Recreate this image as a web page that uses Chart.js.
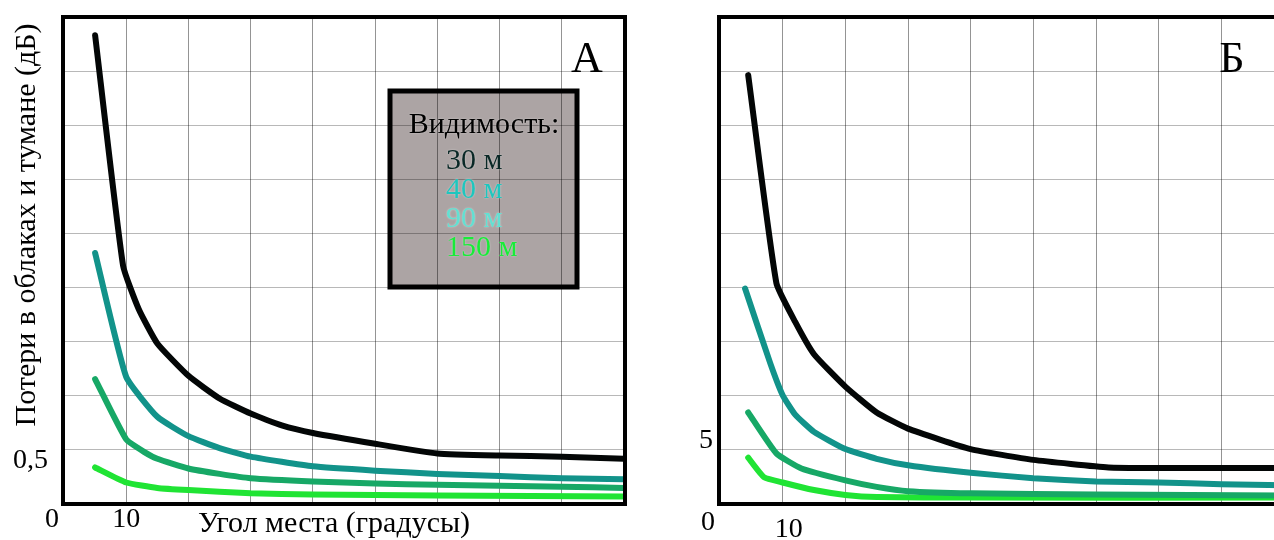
<!DOCTYPE html>
<html>
<head>
<meta charset="utf-8">
<script src="https://cdn.jsdelivr.net/npm/chart.js@4"></script>
<style>
  html, body { margin: 0; padding: 0; background: #fff; overflow: hidden; width: 1274px; height: 540px; }
  #wrapA { position: absolute; left: 0; top: 0; }
  #wrapB { position: absolute; left: 656px; top: 0; }
</style>
</head>
<body>
<div id="wrapA"><canvas id="chartA" width="640" height="540"></canvas></div>
<div id="wrapB"><canvas id="chartB" width="640" height="540"></canvas></div>
<script>
// panel A (dB, 0..4.5)
const angleA30 = [5, 9.5, 12, 15, 20, 25, 30, 35, 40, 50, 60, 70, 80, 90];
const lossA30 = [4.34, 2.2, 1.8, 1.48, 1.18, 0.97, 0.83, 0.72, 0.65, 0.55, 0.46, 0.44, 0.43, 0.41];
const angleA40 = [5, 10, 15, 20, 25, 30, 40, 50, 60, 70, 80, 90];
const lossA40 = [2.32, 1.17, 0.80, 0.62, 0.51, 0.43, 0.34, 0.30, 0.27, 0.25, 0.23, 0.22];
const angleA90 = [5, 10, 13, 15, 20, 25, 30, 40, 50, 60, 70, 80, 90];
const lossA90 = [1.15, 0.59, 0.47, 0.41, 0.32, 0.27, 0.23, 0.20, 0.18, 0.17, 0.16, 0.15, 0.14];
const angleA150 = [5, 10, 15, 20, 30, 40, 60, 90];
const lossA150 = [0.33, 0.19, 0.14, 0.12, 0.09, 0.08, 0.07, 0.06];

// panel B (dB, 0..45)
const angleB30 = [4.5, 9, 12, 15, 20, 25, 30, 40, 50, 62, 70, 80, 90];
const lossB30 = [39.7, 20.4, 16.8, 13.8, 10.8, 8.4, 6.9, 5.0, 4.0, 3.3, 3.25, 3.25, 3.25];
const angleB40 = [4, 8, 10, 12, 15, 20, 25, 30, 40, 50, 60, 70, 80, 90];
const lossB40 = [19.9, 13.0, 10.0, 8.2, 6.6, 5.0, 4.1, 3.5, 2.8, 2.3, 2.0, 1.9, 1.75, 1.65];
const angleB90 = [4.5, 9, 13, 20, 25, 30, 40, 60, 90];
const lossB90 = [8.4, 4.6, 3.2, 2.1, 1.5, 1.1, 0.9, 0.8, 0.7];
const angleB150 = [4.5, 7, 10, 15, 20, 25, 40, 90];
const lossB150 = [4.2, 2.4, 1.9, 1.2, 0.75, 0.55, 0.5, 0.5];

const seriesLabels = ['30 м', '40 м', '90 м', '150 м'];
const lineColors = ['#030606', '#12938a', '#17a866', '#20e434'];
const legendColors = ['#0a2826', '#1ec6be', '#62e0d2', '#18ec38'];
const legendTitle = 'Видимость:';
const xTitle = 'Угол места (градусы)';
const yTitle = 'Потери в облаках и тумане (дБ)';

const serif = '"Liberation Serif", "DejaVu Serif", serif';

function points(xs, ys) {
  return xs.map((x, i) => ({ x: x, y: ys[i] }));
}

function makeDatasets(list) {
  return list.map((pts, i) => ({
    label: seriesLabels[i],
    data: pts,
    borderColor: lineColors[i],
    borderWidth: 6,
    borderCapStyle: 'round',
    borderJoinStyle: 'round',
    pointRadius: 0,
    tension: 0.15,
    fill: false
  }));
}

const decor = {
  id: 'decor',
  beforeDraw(chart, args, o) {
    const a = chart.chartArea;
    const ctx = chart.ctx;
    if (o.legend) {
      ctx.save();
      ctx.fillStyle = '#aca4a4';
      ctx.fillRect(a.left + 326, a.top + 73, 187, 196);
      ctx.restore();
    }
  },
  afterDraw(chart, args, o) {
    const a = chart.chartArea;
    const ctx = chart.ctx;
    const xs = chart.scales.x, ys = chart.scales.y;
    ctx.save();
    // frame
    ctx.strokeStyle = '#000';
    ctx.lineWidth = 4;
    ctx.strokeRect(a.left - 1, a.top - 1, a.right - a.left + 2, a.bottom - a.top + 2);

    ctx.fillStyle = '#000';
    ctx.font = '28px ' + serif;
    ctx.textBaseline = 'middle';
    // tick labels
    ctx.textAlign = 'center';
    ctx.fillText('0', xs.getPixelForValue(0) - 12, o.xLabelY0);
    ctx.fillText('10', xs.getPixelForValue(10) + o.xLabelDx, o.xLabelY10);
    ctx.textAlign = 'right';
    ctx.fillText(o.yLabel, a.left - o.yLabelGap, ys.getPixelForValue(o.yValue) + o.yLabelDy);

    // panel letter
    ctx.textAlign = 'center';
    ctx.textBaseline = 'alphabetic';
    ctx.font = '44px ' + serif;
    ctx.fillText(o.letter, o.letterX, 72);

    if (o.titles) {
      ctx.font = '30px ' + serif;
      ctx.textBaseline = 'middle';
      ctx.fillText(xTitle, a.left + 270, 524);
      ctx.save();
      ctx.translate(27, a.top + 207);
      ctx.rotate(-Math.PI / 2);
      ctx.fillText(yTitle, 0, 0);
      ctx.restore();
    }

    if (o.legend) {
      const bx = a.left + 326, by = a.top + 73;
      ctx.lineWidth = 5;
      ctx.strokeStyle = '#000';
      ctx.strokeRect(bx, by, 187, 196);
      ctx.shadowColor = 'rgba(255,255,255,0.5)';
      ctx.shadowBlur = 2;
      ctx.textBaseline = 'middle';
      ctx.font = '30px ' + serif;
      ctx.textAlign = 'center';
      ctx.fillStyle = '#000';
      ctx.fillText(legendTitle, bx + 94, by + 34);
      ctx.textAlign = 'left';
      seriesLabels.forEach((s, i) => {
        ctx.fillStyle = legendColors[i];
        ctx.fillText(s, bx + 56, by + 70 + i * 29);
      });
    }
    ctx.restore();
  }
};

function makeChart(id, datasets, yMax, yStep, padRight, deco) {
  return new Chart(document.getElementById(id), {
    type: 'line',
    data: { datasets: datasets },
    options: {
      responsive: false,
      animation: false,
      layout: { padding: { left: 64, right: padRight, top: 18, bottom: 37 } },
      scales: {
        x: {
          type: 'linear', min: 0, max: 90,
          ticks: { display: false, stepSize: 10 },
          grid: { color: 'rgba(0,0,0,0.42)', lineWidth: 1, drawTicks: false },
          border: { display: false }
        },
        y: {
          min: 0, max: yMax,
          ticks: { display: false, stepSize: yStep },
          grid: { color: 'rgba(0,0,0,0.28)', lineWidth: 1, drawTicks: false },
          border: { display: false }
        }
      },
      plugins: {
        legend: { display: false },
        tooltip: { enabled: false },
        decor: deco
      }
    },
    plugins: [decor]
  });
}

makeChart('chartA', makeDatasets([
  points(angleA30, lossA30),
  points(angleA40, lossA40),
  points(angleA90, lossA90),
  points(angleA150, lossA150)
]), 4.5, 0.5, 16, {
  legend: true, titles: true, letter: 'А', letterX: 587,
  yLabel: '0,5', yValue: 0.5, yLabelDy: 12, yLabelGap: 16,
  xLabelY0: 520, xLabelY10: 520, xLabelDx: 0
});

makeChart('chartB', makeDatasets([
  points(angleB30, lossB30),
  points(angleB40, lossB40),
  points(angleB90, lossB90),
  points(angleB150, lossB150)
]), 45, 5, 12, {
  legend: false, titles: false, letter: 'Б', letterX: 576,
  yLabel: '5', yValue: 5, yLabelDy: -8, yLabelGap: 7,
  xLabelY0: 523, xLabelY10: 530, xLabelDx: 6
});
</script>
</body>
</html>
